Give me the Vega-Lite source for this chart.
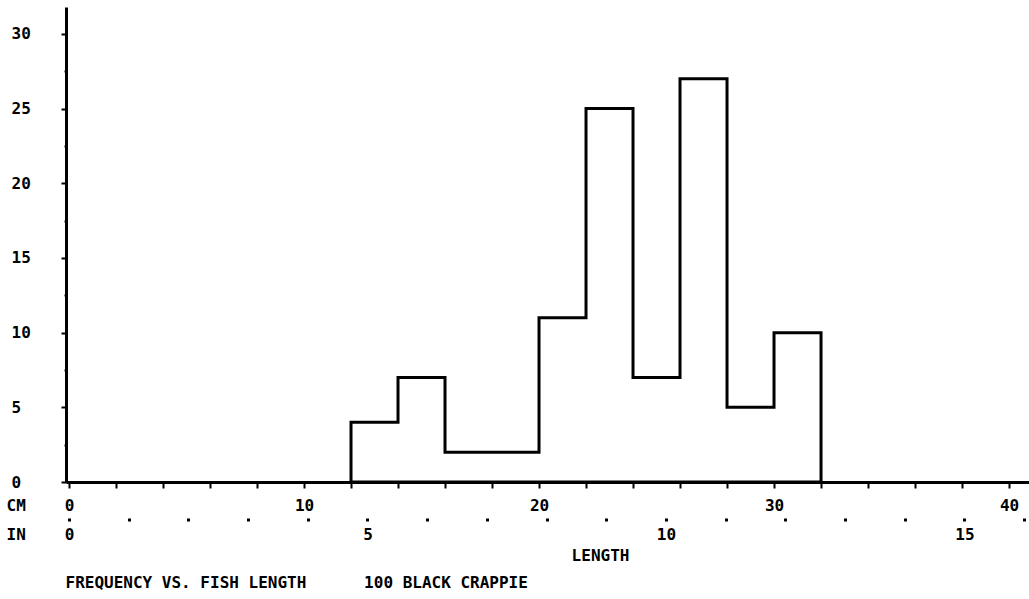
{
  "$schema": "https://vega.github.io/schema/vega-lite/v6.json",
  "width": 963,
  "height": 475,
  "autosize": {"type": "none"},
  "padding": {"left": 66, "top": 7, "right": 0, "bottom": 117},
  "background": "white",
  "config": {
    "view": {"stroke": null},
    "font": "DejaVu Sans Mono",
    "axis": {
      "labelFont": "DejaVu Sans Mono",
      "labelFontSize": 16,
      "labelFontWeight": "bold",
      "labelColor": "black",
      "titleFont": "DejaVu Sans Mono",
      "titleFontSize": 16,
      "titleFontWeight": "bold",
      "titleColor": "black",
      "domainColor": "black",
      "tickColor": "black",
      "grid": false,
      "labelOverlap": false,
      "labelFlush": false,
      "labelBound": false
    }
  },
  "data": {
    "values": [
      {"cm": 12, "count": 4},
      {"cm": 14, "count": 7},
      {"cm": 16, "count": 2},
      {"cm": 18, "count": 2},
      {"cm": 20, "count": 11},
      {"cm": 22, "count": 25},
      {"cm": 24, "count": 7},
      {"cm": 26, "count": 27},
      {"cm": 28, "count": 5},
      {"cm": 30, "count": 10},
      {"cm": 32, "count": 10}
    ]
  },
  "resolve": {"axis": {"x": "independent", "y": "independent"}},
  "layer": [
    {
      "mark": {"type": "area", "interpolate": "step-after", "fill": "transparent", "stroke": "black", "strokeWidth": 3},
      "encoding": {
        "x": {
          "field": "cm", "type": "quantitative",
          "scale": {"domain": [-0.128, 40.85], "nice": false, "zero": false},
          "axis": {
            "orient": "bottom",
            "values": [0,2,4,6,8,10,12,14,16,18,20,22,24,26,28,30,32,34,36,38,40],
            "labelExpr": "datum.value % 10 === 0 ? datum.label : ''",
            "tickSize": 6, "tickWidth": 2, "domainWidth": 3,
            "labelPadding": 9,
            "title": "CM", "titleX": -60, "titleY": 15, "titleAlign": "left", "titleBaseline": "top", "titleAngle": 0
          }
        },
        "y": {
          "field": "count", "type": "quantitative",
          "scale": {"domain": [0, 31.8], "nice": false},
          "axis": {
            "orient": "left",
            "values": [0,5,10,15,20,25,30],
            "tickSize": 5, "tickWidth": 2, "domainWidth": 3,
            "labelAlign": "left", "labelPadding": 50, "labelBaseline": "middle",
            "encode": {"labels": {"update": {"dx": {"signal": "datum.value === 0 ? -5 : 0"}}}},
            "title": "FREQUENCY VS. FISH LENGTH\u00a0\u00a0\u00a0\u00a0\u00a0\u00a0100 BLACK CRAPPIE",
            "titleAngle": 0, "titleX": -1, "titleY": 567, "titleAlign": "left", "titleBaseline": "top"
          }
        }
      }
    },
    {
      "mark": {"type": "point", "opacity": 0},
      "encoding": {
        "x": {
          "field": "cm", "type": "quantitative",
          "axis": {
            "orient": "bottom", "offset": 36, "domain": false,
            "values": [0,2.54,5.08,7.62,10.16,12.7,15.24,17.78,20.32,22.86,25.4,27.94,30.48,33.02,35.56,38.1,40.64],
            "labelExpr": "round(datum.value / 2.54) % 5 === 0 ? '' + round(datum.value / 2.54) : ''",
            "tickSize": 3, "tickWidth": 3, "labelPadding": 5,
            "title": "IN", "titleX": -60, "titleY": 8, "titleAlign": "left", "titleBaseline": "top", "titleAngle": 0
          }
        },
        "y": {
          "field": "count", "type": "quantitative",
          "axis": {
            "orient": "left", "domain": false, "labels": false,
            "values": [2.5,7.5,12.5,17.5,22.5,27.5],
            "tickSize": 2, "tickWidth": 2, "title": null
          }
        }
      }
    },
    {
      "mark": {"type": "point", "opacity": 0},
      "encoding": {
        "x": {
          "field": "cm", "type": "quantitative",
          "axis": {
            "orient": "bottom", "domain": false, "ticks": false, "labels": false,
            "title": "LENGTH", "titleX": 534, "titleY": 65, "titleAlign": "center", "titleBaseline": "top", "titleAngle": 0
          }
        }
      }
    }
  ]
}
